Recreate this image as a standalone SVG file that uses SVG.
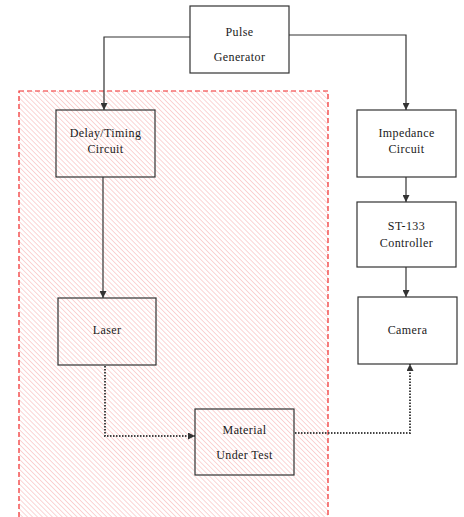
<svg xmlns="http://www.w3.org/2000/svg" width="464" height="517" viewBox="0 0 464 517">
  <defs>
    <pattern id="hatch" width="3.5" height="3.5" patternUnits="userSpaceOnUse" patternTransform="rotate(-45)">
      <line x1="0" y1="0" x2="0" y2="3.5" stroke="#f8b8b8" stroke-width="1.2"/>
    </pattern>
    <marker id="arrow" viewBox="0 0 10 10" refX="10" refY="5" markerWidth="7" markerHeight="7" orient="auto" markerUnits="userSpaceOnUse">
      <path d="M0,0 L10,5 L0,10 Z" fill="#333"/>
    </marker>
  </defs>
  <style>
    .box { fill: none; stroke: #333; stroke-width: 1.2; }
    .lbl { font-family: 'Liberation Serif', 'DejaVu Serif', serif; font-size: 12px; letter-spacing: 0.4px; fill: #1a1a1a; text-anchor: middle; }
    .wire { fill: none; stroke: #333; stroke-width: 1.2; }
    .beam { fill: none; stroke: #444; stroke-width: 2; stroke-dasharray: 1.5 1.5; }
  </style>
  <rect width="464" height="517" fill="#fff"/>

  <!-- optical subsystem region -->
  <g id="region">
    <rect x="19" y="91" width="309" height="440" fill="url(#hatch)" stroke="#f02828" stroke-width="1.2" stroke-dasharray="5 3"/>
  </g>

  <g id="connectors">
    <polyline class="wire" points="190,37 104,37 104,110" marker-end="url(#arrow)"/>
    <polyline class="wire" points="289,35 406,35 406,110" marker-end="url(#arrow)"/>
    <line class="wire" x1="103" y1="177" x2="103" y2="298" marker-end="url(#arrow)"/>
    <line class="wire" x1="406" y1="177" x2="406" y2="202" marker-end="url(#arrow)"/>
    <line class="wire" x1="406" y1="267" x2="406" y2="297" marker-end="url(#arrow)"/>
    <polyline class="beam" points="105,366 105,436 195,436" marker-end="url(#arrow)"/>
    <polyline class="beam" points="295,433 410,433 410,364" marker-end="url(#arrow)"/>
  </g>

  <g id="pulse-generator">
    <rect class="box" x="190" y="6" width="99" height="67" fill="#fff"/>
    <text class="lbl" x="239.5" y="36">Pulse</text>
    <text class="lbl" x="239.5" y="61">Generator</text>
  </g>
  <g id="delay-timing">
    <rect class="box" x="56" y="110" width="99" height="67"/>
    <text class="lbl" x="105.5" y="137">Delay/Timing</text>
    <text class="lbl" x="105.5" y="153">Circuit</text>
  </g>
  <g id="laser">
    <rect class="box" x="58" y="298" width="98" height="67"/>
    <text class="lbl" x="107" y="334">Laser</text>
  </g>
  <g id="material">
    <rect class="box" x="195" y="409" width="99" height="66"/>
    <text class="lbl" x="244.5" y="434">Material</text>
    <text class="lbl" x="244.5" y="459">Under Test</text>
  </g>
  <g id="impedance">
    <rect class="box" x="357" y="110" width="99" height="67"/>
    <text class="lbl" x="406.5" y="137">Impedance</text>
    <text class="lbl" x="406.5" y="153">Circuit</text>
  </g>
  <g id="controller">
    <rect class="box" x="357" y="202" width="99" height="65"/>
    <text class="lbl" x="406.5" y="230">ST-133</text>
    <text class="lbl" x="406.5" y="247">Controller</text>
  </g>
  <g id="camera">
    <rect class="box" x="358" y="297" width="99" height="67"/>
    <text class="lbl" x="407.5" y="334">Camera</text>
  </g>
</svg>
